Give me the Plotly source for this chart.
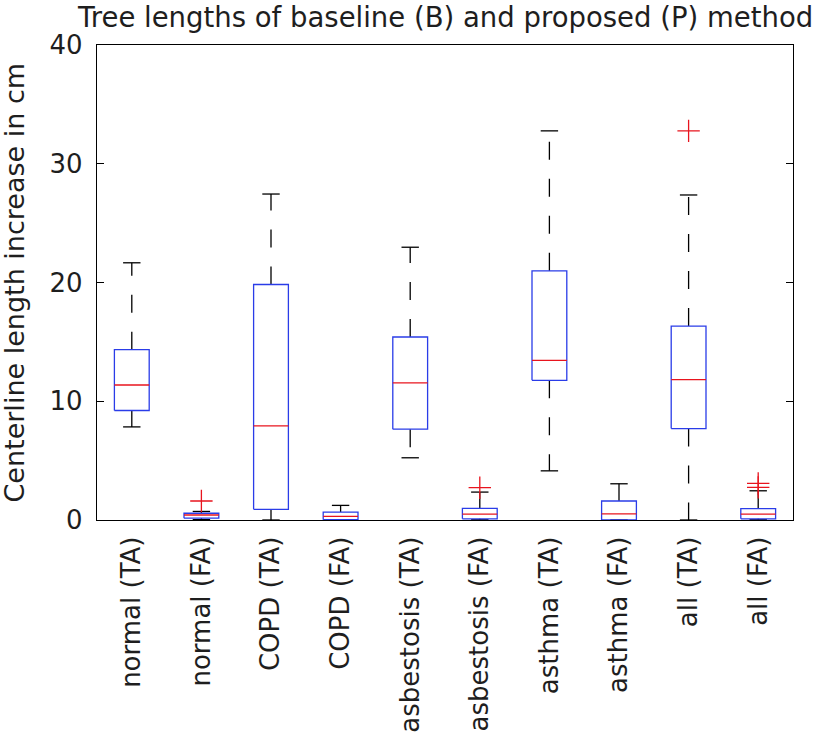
import plotly.graph_objects as go

categories = ["normal (TA)", "normal (FA)", "COPD (TA)", "COPD (FA)",
              "asbestosis (TA)", "asbestosis (FA)", "asthma (TA)", "asthma (FA)",
              "all (TA)", "all (FA)"]
lower_whisker = [7.84, 0.03, 0.0, 0.0, 5.24, 0.02, 4.14, 0.0, 0.0, 0.02]
q1 = [9.22, 0.15, 0.90, 0.02, 7.65, 0.10, 11.76, 0.0, 7.70, 0.10]
median = [11.37, 0.42, 7.93, 0.30, 11.54, 0.50, 13.45, 0.52, 11.82, 0.50]
q3 = [14.34, 0.57, 19.83, 0.67, 15.41, 0.98, 20.98, 1.60, 16.33, 0.95]
upper_whisker = [21.66, 0.72, 27.45, 1.23, 22.97, 2.35, 32.77, 3.05, 27.37, 2.46]
outliers = [[], [1.6], [], [], [], [2.72], [], [], [32.77], [2.75, 3.08]]
y_ticks = [0, 10, 20, 30, 40]

title_text = "Tree lengths of baseline (B) and proposed (P) method"
ylabel_text = "Centerline length increase in cm"

FONT = "DejaVu Sans"
TXT = "#1e1e1e"
BOX_HW = 0.25
CAP_HW = 0.125
LW = 1.3

fig = go.Figure()
positions = list(range(1, len(categories) + 1))

for i, x in enumerate(positions):
    # whiskers (dashed, drawn from box outward)
    for y0, y1 in ((q3[i], upper_whisker[i]), (q1[i], lower_whisker[i])):
        fig.add_trace(go.Scatter(x=[x, x], y=[y0, y1], mode="lines",
                                 line=dict(color="black", width=LW, dash="18px,19px"),
                                 hoverinfo="skip", showlegend=False))
    # caps
    for yc in (upper_whisker[i], lower_whisker[i]):
        fig.add_trace(go.Scatter(x=[x - CAP_HW, x + CAP_HW], y=[yc, yc], mode="lines",
                                 line=dict(color="black", width=LW),
                                 hoverinfo="skip", showlegend=False))
    # box
    fig.add_trace(go.Scatter(
        x=[x - BOX_HW, x + BOX_HW, x + BOX_HW, x - BOX_HW, x - BOX_HW],
        y=[q1[i], q1[i], q3[i], q3[i], q1[i]], mode="lines",
        line=dict(color="#2a3ce8", width=LW), hoverinfo="skip", showlegend=False))
    # median
    fig.add_trace(go.Scatter(x=[x - BOX_HW, x + BOX_HW], y=[median[i], median[i]],
                             mode="lines", line=dict(color="#e8141e", width=LW),
                             hoverinfo="skip", showlegend=False))
    # outliers
    if outliers[i]:
        fig.add_trace(go.Scatter(x=[x] * len(outliers[i]), y=outliers[i], mode="markers",
                                 marker=dict(symbol="cross-thin", size=16,
                                             line=dict(color="#e8141e", width=1.3)),
                                 hoverinfo="skip", showlegend=False))

fig.update_layout(
    width=821, height=746,
    margin=dict(l=97, r=28, t=45, b=226),
    paper_bgcolor="white", plot_bgcolor="white",
    font=dict(family=FONT, size=26, color=TXT),
    showlegend=False,
    xaxis=dict(range=[0.5, 10.5], tickvals=positions, ticktext=categories,
               tickangle=-90, ticks="", showline=True, linecolor="black",
               linewidth=LW, mirror=True, showgrid=False, zeroline=False,
               automargin=False,
               ticklabelstandoff=5, tickfont=dict(family=FONT, size=26, color=TXT)),
    yaxis=dict(range=[0, 40], tickvals=y_ticks, ticks="inside", ticklen=7,
               tickcolor="black", tickwidth=LW, showline=True, linecolor="black",
               linewidth=LW, mirror="ticks", showgrid=False, zeroline=False,
               automargin=False,
               ticklabelstandoff=8, tickfont=dict(family=FONT, size=26, color=TXT)),
    annotations=[
        dict(text=title_text, xref="paper", yref="paper", x=0.5, y=1,
             xanchor="center", yanchor="top", yshift=45, showarrow=False,
             borderpad=0,
             font=dict(family=FONT, size=27.5, color=TXT)),
        dict(text=ylabel_text, xref="paper", yref="paper", x=0, y=0.5,
             xanchor="center", yanchor="middle", xshift=-83, textangle=-90,
             showarrow=False, font=dict(family=FONT, size=27, color=TXT)),
    ],
)

fig.write_html("out.html",
               config={"displayModeBar": False},
               post_script="document.body.style.margin='0px';document.body.style.overflow='hidden';")
